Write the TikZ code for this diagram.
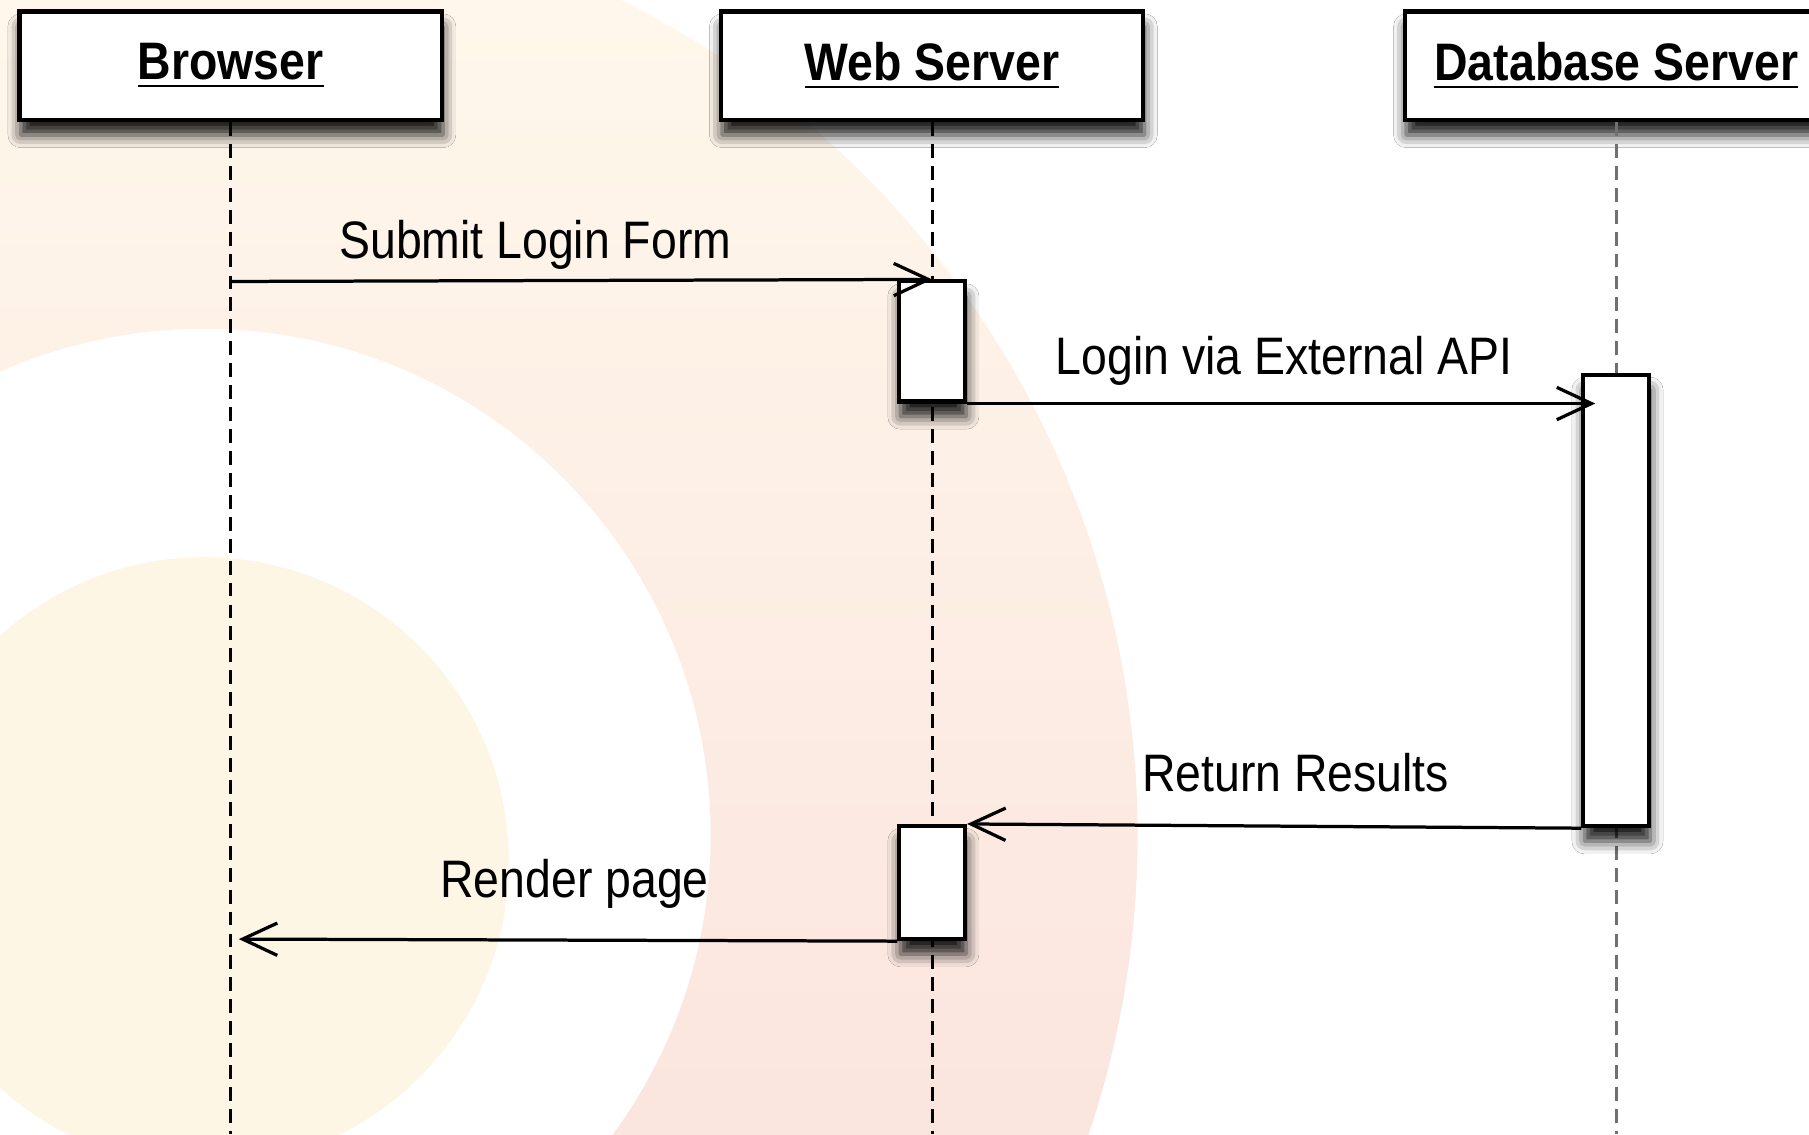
\documentclass[tikz,border=0pt]{standalone}
\usepackage{fontspec}
\setmainfont{Liberation Sans}[FakeStretch=0.88]
\usetikzlibrary{arrows.meta,shadows.blur}
\definecolor{logocream}{HTML}{FEF6E4}
\definecolor{logotop}{HTML}{FFF9EC}
\definecolor{logobot}{HTML}{F9DBD8}
\definecolor{dbline}{HTML}{707070}
\begin{document}
\begin{tikzpicture}[x=0.01cm,y=-0.01cm,
  every node/.style={font=\fontsize{13}{15}\selectfont},
  boxshadow/.style={blur shadow={shadow xshift=0.01cm,shadow yshift=-0.13cm,shadow blur radius=0.11cm,shadow opacity=90}},
  actor/.style={draw,line width=1pt,fill=white,minimum width=3.66cm,minimum height=0.94cm,
    font=\fontsize{13}{15}\selectfont\bfseries,boxshadow},
  activation/.style={draw,line width=1pt,fill=white,minimum width=0.57cm,inner sep=0pt,boxshadow},
  lifeline/.style={dash pattern=on 0.12cm off 0.07cm,line width=0.8pt},
  msg/.style={line width=0.8pt,-{Straight Barb[length=0.3cm,width=0.28cm]}},
  msglabel/.style={anchor=base}]
  \useasboundingbox (0,0) rectangle (1568,983);
  % faded logo behind the diagram
  \begin{scope}
    \clip (0,0) rectangle (1568,983);
    \fill[white] (0,0) rectangle (1568,983);
    \shade[even odd rule,top color=logotop,bottom color=logobot]
      (177,724) circle[radius=809] (177,724) circle[radius=439];
    \fill[logocream] (177,747) circle[radius=264];
  \end{scope}

  \node[actor] (browser) at (200,57) {\underline{Browser}};
  \node[actor] (websrv) at (808,57) {\underline{Web Server}};
  \node[actor] (dbsrv) at (1401,57) {\underline{Database Server}};

  \coordinate (browserfoot) at (200,983);
  \coordinate (websrvfoot) at (808,983);
  \coordinate (dbsrvfoot) at (1401,983);
  \draw[lifeline] (browser.south) -- (browserfoot);
  \draw[lifeline] (websrv.south) -- (websrvfoot);
  \draw[lifeline,draw=dbline] (dbsrv.south) -- (dbsrvfoot);

  \node[activation,minimum height=1.04cm] (act1) at (808,296) {};
  \node[activation,minimum height=3.91cm] (dbact) at (1401,520.5) {};
  \node[activation,minimum height=0.98cm] (act2) at (808,765) {};

  % messages
  \coordinate (submit) at (200,244);
  \coordinate (render) at (207,814);
  \draw[msg] (submit) -- (act1.north);
  \node[msglabel] (submitlbl) at (464,224) {Submit Login Form};
  \draw[msg,shorten >=-0.12cm] (act1.south east) -- (act1.south east -| dbact.west);
  \node[msglabel] (loginlbl) at (1113,325) {Login via External API};
  \draw[msg] (dbact.south west) -- (act2.north east);
  \node[msglabel] (returnlbl) at (1123,686) {Return Results};
  \draw[msg] (act2.south west) -- (render);
  \node[msglabel] (renderlbl) at (498,778) {Render page};
\end{tikzpicture}
\end{document}
